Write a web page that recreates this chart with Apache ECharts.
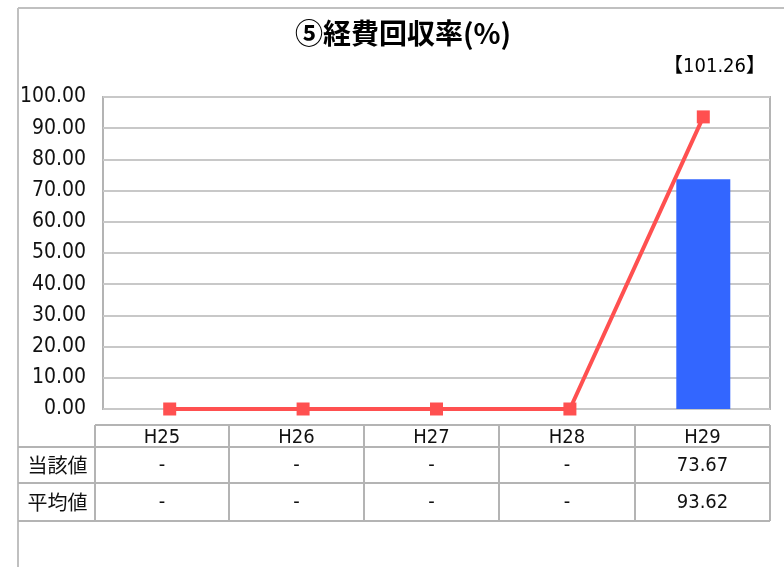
<!DOCTYPE html>
<html>
<head>
<meta charset="utf-8">
<script src="https://cdn.jsdelivr.net/npm/echarts@6/dist/echarts.min.js"></script>
<style>html,body{margin:0;padding:0;background:#fff;}#main{width:784px;height:567px;}</style>
</head>
<body>
<div id="main"></div>
<script>
var categories = ['H25', 'H26', 'H27', 'H28', 'H29'];
var currentValues = [null, null, null, null, 73.67];
var averageValues = [0, 0, 0, 0, 93.62];
var rowLabels = ['当該値', '平均値'];
var titleText = '⑤経費回収率(%)';
var noteText = '【101.26】';

var FONT = '"Liberation Sans Narrow", "DejaVu Sans Condensed", "Noto Sans CJK JP", sans-serif';
var JFONT = '"Noto Sans CJK JP", sans-serif';
var chart = echarts.init(document.getElementById('main'));

function fmt(v) { return (v === null || v === 0) ? '-' : v.toFixed(2); }

// table layout
var colX = [95, 229, 364, 499, 635, 770];
var rowY = [425, 447, 483, 521];
var frameLeft = 18;
var lineColor = '#b4b4b4';

var g = [];
// outer frame
g.push({type: 'line', shape: {x1: frameLeft, y1: 8, x2: 784, y2: 8}, style: {stroke: '#c0c0c0', lineWidth: 2}});
g.push({type: 'line', shape: {x1: frameLeft, y1: 8, x2: frameLeft, y2: 567}, style: {stroke: '#c0c0c0', lineWidth: 2}});
// title
g.push({type: 'text', x: 403, y: 33, style: {text: titleText, font: 'bold 28px ' + JFONT, fill: '#000', align: 'center', verticalAlign: 'middle'}});
g.push({type: 'text', x: 766, y: 67, style: {text: noteText, font: '20px ' + FONT, fill: '#000', align: 'right', verticalAlign: 'middle'}});
// table horizontal lines
g.push({type: 'line', shape: {x1: colX[0], y1: rowY[0], x2: colX[5], y2: rowY[0]}, style: {stroke: lineColor, lineWidth: 2}});
for (var r = 1; r < rowY.length; r++) {
  g.push({type: 'line', shape: {x1: frameLeft, y1: rowY[r], x2: colX[5], y2: rowY[r]}, style: {stroke: lineColor, lineWidth: 2}});
}
// vertical lines
for (var c = 0; c < colX.length; c++) {
  g.push({type: 'line', shape: {x1: colX[c], y1: rowY[0], x2: colX[c], y2: rowY[3]}, style: {stroke: lineColor, lineWidth: 2}});
}
// cells
for (var i = 0; i < categories.length; i++) {
  var cx = (colX[i] + colX[i + 1]) / 2;
  g.push({type: 'text', x: cx, y: (rowY[0] + rowY[1]) / 2 + 2, style: {text: categories[i], font: '20px ' + FONT, fill: '#111', align: 'center', verticalAlign: 'middle'}});
  g.push({type: 'text', x: cx, y: (rowY[1] + rowY[2]) / 2 + 1, style: {text: fmt(currentValues[i]), font: '20px ' + FONT, fill: '#111', align: 'center', verticalAlign: 'middle'}});
  g.push({type: 'text', x: cx, y: (rowY[2] + rowY[3]) / 2 + 1, style: {text: fmt(averageValues[i]), font: '20px ' + FONT, fill: '#111', align: 'center', verticalAlign: 'middle'}});
}
g.push({type: 'text', x: (frameLeft + colX[0]) / 2 + 1, y: (rowY[1] + rowY[2]) / 2, style: {text: rowLabels[0], font: '20px ' + JFONT, fill: '#111', align: 'center', verticalAlign: 'middle'}});
g.push({type: 'text', x: (frameLeft + colX[0]) / 2 + 1, y: (rowY[2] + rowY[3]) / 2, style: {text: rowLabels[1], font: '20px ' + JFONT, fill: '#111', align: 'center', verticalAlign: 'middle'}});

chart.setOption({
  animation: false,
  backgroundColor: '#fff',
  grid: {left: 103, right: 14, top: 97, bottom: 158, show: true, borderColor: '#b4b4b4', borderWidth: 2, containLabel: false},
  xAxis: {
    type: 'category', data: categories,
    axisLine: {show: false}, axisTick: {show: false}, axisLabel: {show: false}
  },
  yAxis: {
    type: 'value', min: 0, max: 100, interval: 10,
    axisLine: {show: false}, axisTick: {show: false},
    axisLabel: {formatter: function (v) { return v.toFixed(2); }, fontFamily: FONT, fontSize: 21, color: '#111', margin: 17, padding: [5, 0, 0, 0]},
    splitLine: {lineStyle: {color: '#c8c8c8', width: 2}}
  },
  series: [
    {type: 'bar', name: '当該値', data: currentValues, barWidth: 54, itemStyle: {color: '#3366FF'}, z: 2},
    {type: 'line', name: '平均値', data: averageValues, symbol: 'rect', symbolSize: 13, lineStyle: {color: '#FF5050', width: 4}, itemStyle: {color: '#FF5050'}, z: 3}
  ],
  graphic: g
});
</script>
</body>
</html>
